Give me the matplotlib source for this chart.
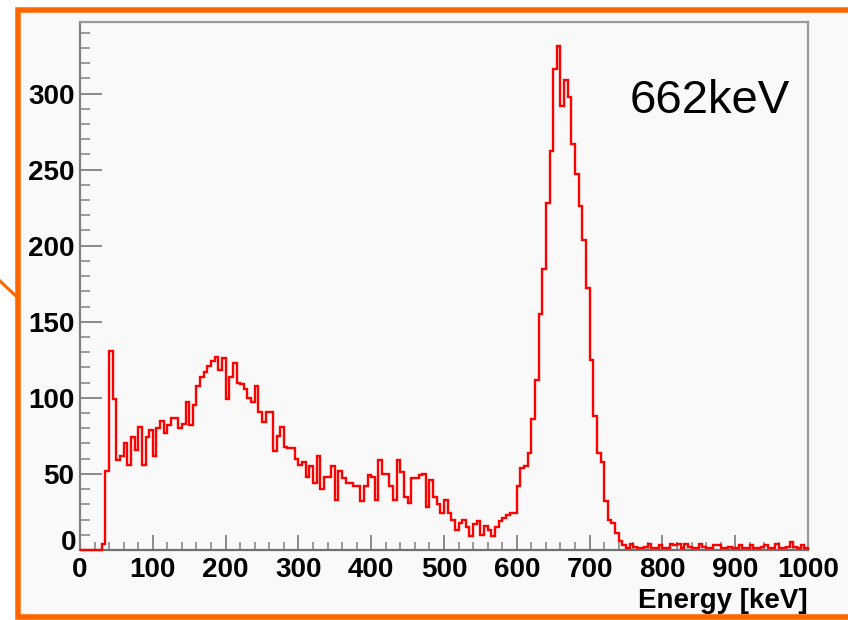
import numpy as np
import matplotlib
matplotlib.use("Agg")
import matplotlib.pyplot as plt
from matplotlib.patches import Rectangle
from matplotlib.lines import Line2D
from matplotlib.ticker import MultipleLocator

# ---------------- data ----------------
bin_width = 5  # keV
x_min, x_max = 0, 1000
counts = [
    # 0-150 keV
    0, 0, 0, 0, 0, 0, 4, 52, 131, 99,
    59, 62, 70, 56, 74, 66, 81, 56, 74, 79,
    62, 80, 85, 77, 82, 87, 87, 80, 83, 97,
    # 150-300 keV
    82, 95, 108, 114, 117, 121, 124, 127, 118, 126,
    99, 114, 123, 110, 109, 106, 100, 97, 108, 91,
    84, 91, 91, 65, 75, 81, 68, 67, 67, 60,
    # 300-450 keV
    56, 58, 48, 55, 44, 62, 40, 48, 48, 55,
    33, 52, 47, 44, 44, 42, 42, 32, 42, 49,
    48, 33, 59, 50, 50, 42, 33, 59, 51, 35,
    # 450-600 keV
    31, 47, 47, 49, 50, 28, 46, 35, 30, 24,
    33, 24, 20, 13, 18, 20, 15, 9, 17, 19,
    10, 16, 13, 9, 15, 19, 21, 23, 24, 24,
    # 600-750 keV
    42, 54, 55, 64, 86, 112, 155, 185, 228, 262,
    316, 331, 292, 309, 298, 267, 247, 226, 204, 172,
    125, 88, 64, 58, 32, 20, 18, 11, 6, 3,
    # 750-1000 keV
    1, 4, 2, 1, 1, 2, 4, 1, 1, 3,
    1, 1, 4, 3, 4, 1, 4, 2, 1, 1,
    4, 2, 1, 1, 3, 3, 1, 1, 2, 1,
    1, 3, 1, 1, 3, 1, 1, 2, 3, 1,
    1, 4, 1, 1, 2, 5, 2, 1, 3, 1,
]
xticks = [0, 100, 200, 300, 400, 500, 600, 700, 800, 900, 1000]
yticks = [0, 50, 100, 150, 200, 250, 300]
y_max = 347
x_label = "Energy [keV]"
annotation = "662keV"

edges = np.arange(x_min, x_max + bin_width, bin_width)

# ---------------- figure ----------------
W, H = 848, 620
fig = plt.figure(figsize=(W / 100, H / 100), dpi=100, facecolor="white")

orange = "#ff6600"
bg = "#f9f9f9"

# orange frame (right side runs off the canvas)
frame = Rectangle((17.5 / W, 1 - 617 / H), 1.2, (617 - 9.5) / H,
                  transform=fig.transFigure, facecolor=bg, edgecolor=orange,
                  linewidth=4.0, zorder=0)
fig.add_artist(frame)
fig.add_artist(Line2D([0, 17 / W], [1 - 281 / H, 1 - 297 / H],
                      transform=fig.transFigure, color=orange, lw=2.2, zorder=1))

ax = fig.add_axes([80 / W, 1 - 550 / H, 728 / W, 528 / H])
ax.set_facecolor(bg)
ax.set_zorder(2)

ax.stairs(counts, edges, color="#ff0000", linewidth=1.7, zorder=3, clip_on=False)

ax.set_xlim(x_min, x_max)
ax.set_ylim(0, y_max)

for side, sp in ax.spines.items():
    sp.set_color("#9a9a9a")
    sp.set_linewidth(1.6)
ax.spines["left"].set_color("#808080")
ax.spines["bottom"].set_color("#707070")

ax.set_xticks(xticks)
ax.set_yticks(yticks)
ax.xaxis.set_minor_locator(MultipleLocator(20))
ax.yaxis.set_minor_locator(MultipleLocator(10))

font = dict(family=["Liberation Sans", "DejaVu Sans"], weight="bold", size=20)
ax.set_xticklabels([str(t) for t in xticks], fontdict=font)
ax.set_yticklabels(["" if t == 0 else str(t) for t in yticks], fontdict=font)

ax.tick_params(axis="x", which="major", direction="in", length=11, width=1.4,
               color="#8a8a8a", pad=5, top=False)
ax.tick_params(axis="x", which="minor", direction="in", length=5.5, width=1.2,
               color="#8a8a8a", top=False)
ax.tick_params(axis="y", which="major", direction="in", length=15.5, width=1.4,
               color="#8a8a8a", pad=4, right=False)
ax.tick_params(axis="y", which="minor", direction="in", length=7.5, width=1.2,
               color="#8a8a8a", right=False)

# y-axis "0" label, raised slightly as in the original
ax.annotate("0", xy=(0, yticks[0]), xycoords=("axes fraction", "data"),
            xytext=(-4, 7), textcoords="offset pixels", ha="right", va="center",
            **{"fontfamily": ["Liberation Sans", "DejaVu Sans"],
               "fontweight": "bold", "fontsize": 20}, annotation_clip=False)

fig.text(808 / W, 1 - 608 / H, x_label, ha="right", va="baseline",
         family=["Liberation Sans", "DejaVu Sans"], weight="bold", size=20)

fig.text(630 / W, 1 - 113 / H, annotation, ha="left", va="baseline",
         family=["Liberation Sans", "DejaVu Sans"], size=34, color="black")

fig.savefig("out.png", dpi=100, facecolor=fig.get_facecolor())
